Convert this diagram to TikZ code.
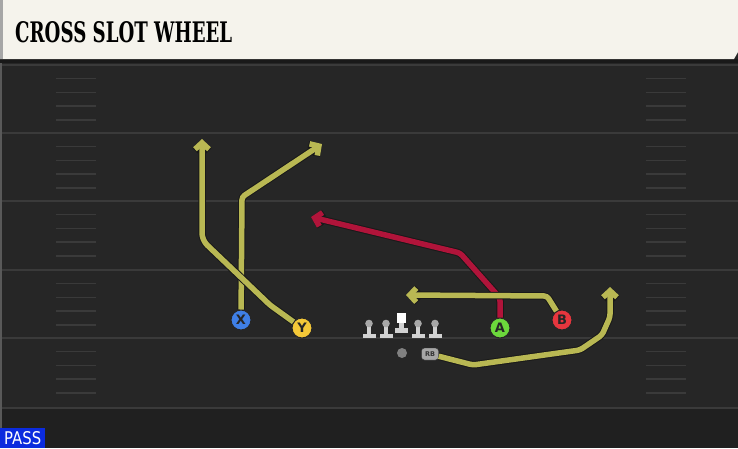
\documentclass[tikz,border=0pt]{standalone}
\usepackage{fontspec}
\usepackage{graphicx}
\setmainfont{DejaVu Sans}
\newfontfamily\titlefont{DejaVu Serif}
\usetikzlibrary{arrows.meta}

\definecolor{turf}{HTML}{262626}
\definecolor{turfdark}{HTML}{202020}
\definecolor{fieldline}{HTML}{3A3A3A}
\definecolor{banner}{HTML}{F5F3EC}
\definecolor{passblue}{HTML}{0B2BDE}
\definecolor{routeyellow}{HTML}{B9B853}
\definecolor{routered}{HTML}{B0143A}
\definecolor{xblue}{HTML}{3F7FE6}
\definecolor{yyellow}{HTML}{F4C838}
\definecolor{agreen}{HTML}{6CD83C}
\definecolor{bred}{HTML}{E6363E}
\definecolor{lineman}{HTML}{D2D2D2}

\begin{document}
\begin{tikzpicture}[x=1pt,y=-1pt,
		yardline/.style={draw=fieldline,line width=2pt},
		hashmark/.style={draw=fieldline,line width=1.5pt},
		player/.style={circle,draw=black!85,line width=1pt,fill=#1,minimum size=20pt,inner sep=0pt,
			font=\bfseries\fontsize{13}{13}\selectfont,text=black!85},
		route/.style={draw=#1,line width=5.5pt,rounded corners=3pt,
			-{Straight Barb[length=6.5pt,width=14pt]},preaction={draw=black!90,line width=7.5pt}}]

	\useasboundingbox (0,0) rectangle (738,448);
	\fill[turf] (0,0) rectangle (738,448);
	\fill[turfdark] (0,408) rectangle (738,448);
	\fill[black!65] (0,59) rectangle (2,448);

	% yard lines and hashes
	\foreach \yl in {65,133,201,270,338,408}
		\draw[yardline] (2,\yl) -- (738,\yl);
	\foreach \yl in {65,133,201,270,338}
		\foreach \k in {1,...,4} {
			\draw[hashmark] (56,{\yl+\k*13.7}) -- (96,{\yl+\k*13.7});
			\draw[hashmark] (646,{\yl+\k*13.7}) -- (686,{\yl+\k*13.7});
		}

	% banner
	\fill[black!90] (0,59) rectangle (738,63);
	\fill[banner] (0,0) -- (738,0) -- (738,52) -- (734,59) -- (0,59) -- cycle;
	\fill[black!35] (0,0) rectangle (3,59);
	\node[anchor=south west,inner sep=0pt] (title) at (15,43)
		{\resizebox{217pt}{21pt}{\titlefont\bfseries CROSS SLOT WHEEL}};
	\node[fill=passblue,anchor=south west,inner sep=0pt,minimum width=45pt,minimum height=20pt,text=white] (pass) at (0,448)
		{\resizebox{37pt}{13pt}{PASS}};

	% line
	\foreach \lx in {369,386,418,435} {
		\fill[lineman] (\lx-6.5,334) rectangle (\lx+6.5,338);
		\fill[lineman] (\lx-2.2,324) rectangle (\lx+2.2,334);
		\fill[lineman!80!black] (\lx,323.5) circle (3.8pt);
	}
	\fill[white] (397,313) rectangle (406,323);
	\fill[lineman] (399.3,323) rectangle (403.7,328);
	\fill[lineman] (395,328) rectangle (408,333);

	% backs and receivers
	\node[circle,fill=black!50,minimum size=10pt,inner sep=0pt] (qb) at (402,353) {};
	\node[draw=black!80,fill=black!35,rounded corners=3pt,minimum width=17pt,minimum height=12pt,inner sep=0pt,
		font=\bfseries\fontsize{6.5}{6.5}\selectfont,text=black!80] (rb) at (430,354) {RB};
	\node[player=xblue] (x) at (241,320) {X};
	\node[player=yyellow] (y) at (302,328) {Y};
	\node[player=agreen] (a) at (500,328) {A};
	\node[player=bred] (b) at (562,320) {B};

	\coordinate (xend) at (322,144);
	\coordinate (yend) at (202,139);
	\coordinate (aend) at (311,217);
	\coordinate (bend) at (406,295);
	\coordinate (rbend) at (610,287);

	% routes
	\draw[route=routeyellow] (x) -- (242,197) -- (xend);
	\draw[route=routeyellow] (y) -- (270,305) -- (205,243) -- (202,236) -- (yend);
	\draw[route=routered] (a) -- (500,298) -- (460,253) -- (aend);
	\draw[route=routeyellow] (b) -- (547,296) -- (bend);
	\draw[route=routeyellow] (rb) -- (473,365) -- (580,350) -- (602,335) -- (610,317) -- (rbend);

\end{tikzpicture}
\end{document}
